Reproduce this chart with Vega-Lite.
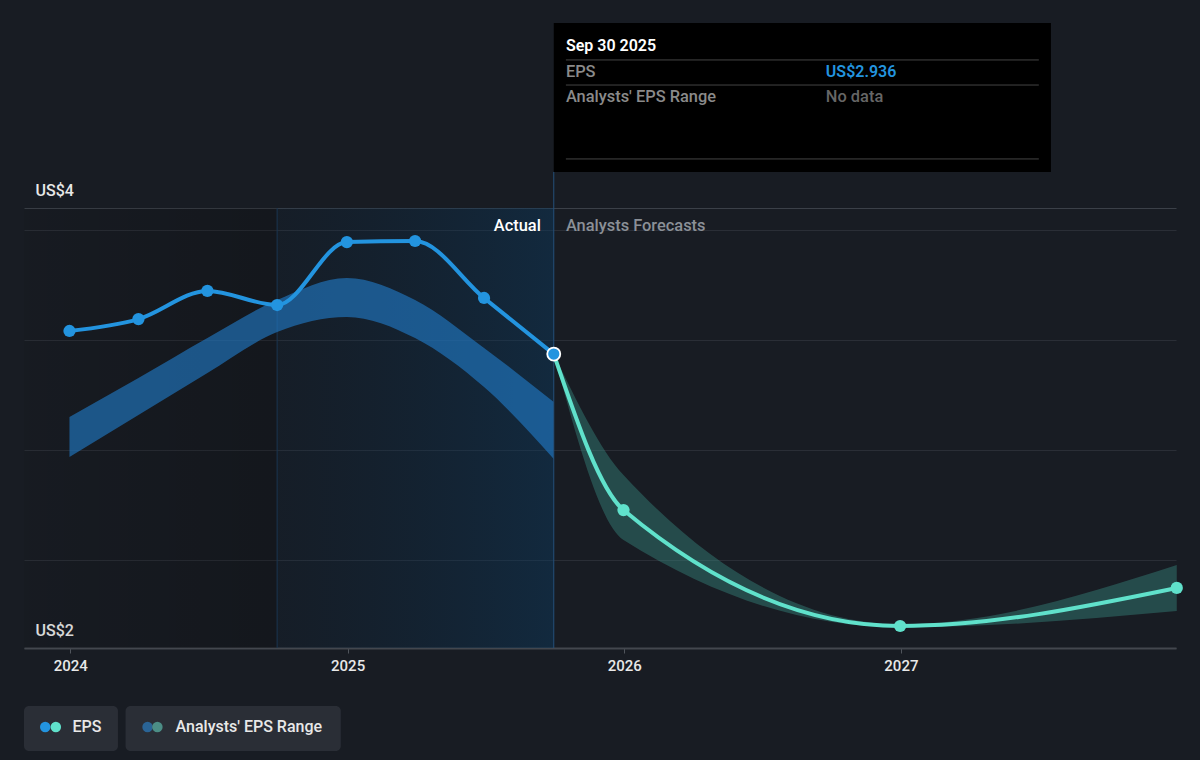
{
  "$schema": "https://vega.github.io/schema/vega-lite/v6.json",
  "width": 1152,
  "height": 440,
  "autosize": {"type": "none"},
  "padding": {"left": 24, "top": 208, "right": 24, "bottom": 112},
  "background": "#181c23",
  "config": {
    "view": {"stroke": null},
    "font": "Roboto",
    "text": {"font": "Roboto", "fontSize": 16.4, "baseline": "middle"}
  },
  "data": {"values": [{}]},
  "datasets": {
    "actual": [
      {"date": "2023-12-31", "eps": 3.041},
      {"date": "2024-03-31", "eps": 3.095},
      {"date": "2024-06-30", "eps": 3.223},
      {"date": "2024-09-30", "eps": 3.159},
      {"date": "2024-12-31", "eps": 3.445},
      {"date": "2025-03-31", "eps": 3.45},
      {"date": "2025-06-30", "eps": 3.191},
      {"date": "2025-09-30", "eps": 2.936}
    ],
    "forecast": [
      {"date": "2025-09-30", "eps": 2.936},
      {"date": "2025-12-31", "eps": 2.227},
      {"date": "2026-12-31", "eps": 1.7},
      {"date": "2027-12-31", "eps": 1.873}
    ],
    "pastRange": [
      {"date": "2023-12-31", "low": 2.468, "high": 2.65},
      {"date": "2024-03-31", "low": 2.659, "high": 2.827},
      {"date": "2024-06-30", "low": 2.85, "high": 3.009},
      {"date": "2024-09-30", "low": 3.036, "high": 3.182},
      {"date": "2024-12-31", "low": 3.105, "high": 3.282},
      {"date": "2025-03-31", "low": 3.009, "high": 3.182},
      {"date": "2025-06-30", "low": 2.786, "high": 2.964},
      {"date": "2025-09-30", "low": 2.459, "high": 2.718}
    ],
    "forecastRange": [
      {"date": "2025-09-30", "low": 2.936, "high": 2.936},
      {"date": "2025-12-31", "low": 2.091, "high": 2.386},
      {"date": "2026-12-31", "low": 1.694, "high": 1.708},
      {"date": "2027-12-31", "low": 1.768, "high": 1.977}
    ]
  },
  "layer": [
    {
      "data": {"name": "pastRange"},
      "mark": {"type": "area", "opacity": 0},
      "encoding": {
        "x": {
          "field": "date",
          "type": "temporal",
          "title": null,
          "scale": {"type": "utc", "domain": [{"year": 2023, "month": 11, "date": 1, "utc": true}, {"year": 2027, "month": 12, "date": 30, "utc": true}]},
          "axis": {
            "values": [
              {"year": 2024, "month": 1, "date": 1, "utc": true},
              {"year": 2025, "month": 1, "date": 1, "utc": true},
              {"year": 2026, "month": 1, "date": 1, "utc": true},
              {"year": 2027, "month": 1, "date": 1, "utc": true}
            ],
            "format": "%Y",
            "formatType": "utc",
            "title": null,
            "grid": false,
            "labelColor": "#e8e8e8",
            "labelFontSize": 15,
            "labelFontWeight": 500,
            "labelPadding": 5,
            "labelFlush": false,
            "tickColor": "#50555c",
            "tickSize": 5,
            "domainColor": "#43474e",
            "domainWidth": 2
          }
        },
        "y": {
          "field": "high",
          "type": "quantitative",
          "title": null,
          "scale": {"domain": [1.6, 3.6], "nice": false, "zero": false},
          "axis": {
            "values": [1.6, 2, 2.5, 3, 3.5, 3.6],
            "labelExpr": "datum.value === 1.6 || datum.value === 3.6 ? 'US$' + format(datum.value, '.0f') : ''",
            "title": null,
            "grid": true,
            "gridColor": {"condition": {"test": "datum.value >= 3.55 || datum.value <= 1.65", "value": "#3b4048"}, "value": "#2a2e36"},
            "domain": false,
            "ticks": false,
            "labelAlign": "left",
            "labelBaseline": "alphabetic",
            "labelPadding": -11,
            "labelOffset": -13,
            "labelColor": "#e8e8e8",
            "labelFontSize": 16,
            "labelFontWeight": 500
          }
        }
      }
    },
    {
      "mark": {"type": "rect", "color": {"gradient": "linear", "x1": 0, "x2": 1, "y1": 0, "y2": 0, "stops": [{"offset": 0, "color": "rgba(0,0,0,0.05)"}, {"offset": 1, "color": "rgba(0,0,0,0.18)"}]}},
      "encoding": {
        "x": {"datum": {"year": 2023, "month": 11, "date": 1, "utc": true}, "type": "temporal", "title": null},
        "x2": {"datum": {"year": 2024, "month": 9, "date": 30, "utc": true}},
        "y": {"datum": 3.6, "type": "quantitative", "title": null},
        "y2": {"datum": 1.6}
      }
    },
    {
      "mark": {"type": "rect", "color": {"gradient": "linear", "x1": 0, "x2": 1, "y1": 0, "y2": 0, "stops": [{"offset": 0, "color": "rgba(5,40,70,0.12)"}, {"offset": 1, "color": "rgba(10,60,100,0.42)"}]}},
      "encoding": {
        "x": {"datum": {"year": 2024, "month": 9, "date": 30, "utc": true}, "type": "temporal", "title": null},
        "x2": {"datum": {"year": 2025, "month": 9, "date": 30, "utc": true}},
        "y": {"datum": 3.6, "type": "quantitative", "title": null},
        "y2": {"datum": 1.6}
      }
    },
    {
      "mark": {"type": "rule", "color": "#1b3650", "strokeWidth": 1},
      "encoding": {
        "x": {"datum": {"year": 2024, "month": 9, "date": 30, "utc": true}, "type": "temporal", "title": null},
        "y": {"datum": 3.6, "type": "quantitative", "title": null},
        "y2": {"datum": 1.6}
      }
    },
    {
      "data": {"name": "pastRange"},
      "mark": {"type": "area", "interpolate": "monotone", "color": "#2179c4", "opacity": 0.64},
      "encoding": {
        "x": {"field": "date", "type": "temporal", "title": null},
        "y": {"field": "high", "type": "quantitative", "title": null},
        "y2": {"field": "low"}
      }
    },
    {
      "data": {"name": "forecastRange"},
      "mark": {"type": "area", "interpolate": "monotone", "color": "#3a8c84", "opacity": 0.42},
      "encoding": {
        "x": {"field": "date", "type": "temporal", "title": null},
        "y": {"field": "high", "type": "quantitative", "title": null},
        "y2": {"field": "low"}
      }
    },
    {
      "mark": {"type": "rule", "color": "#24507a", "strokeWidth": 1},
      "encoding": {
        "x": {"datum": {"year": 2025, "month": 9, "date": 30, "utc": true}, "type": "temporal", "title": null},
        "y": {"datum": 3.764, "type": "quantitative", "title": null},
        "y2": {"datum": 1.6}
      }
    },
    {
      "data": {"name": "forecast"},
      "mark": {"type": "line", "interpolate": "monotone", "color": "#60e1cb", "strokeWidth": 4},
      "encoding": {
        "x": {"field": "date", "type": "temporal", "title": null},
        "y": {"field": "eps", "type": "quantitative", "title": null}
      }
    },
    {
      "data": {"name": "forecast"},
      "transform": [{"filter": {"field": "date", "timeUnit": "yearmonthdate", "gt": {"year": 2025, "month": 9, "date": 30}}}],
      "mark": {"type": "circle", "color": "#60e1cb", "size": 150, "opacity": 1},
      "encoding": {
        "x": {"field": "date", "type": "temporal", "title": null},
        "y": {"field": "eps", "type": "quantitative", "title": null}
      }
    },
    {
      "data": {"name": "actual"},
      "mark": {"type": "line", "interpolate": "monotone", "color": "#2394df", "strokeWidth": 4},
      "encoding": {
        "x": {"field": "date", "type": "temporal", "title": null},
        "y": {"field": "eps", "type": "quantitative", "title": null}
      }
    },
    {
      "data": {"name": "actual"},
      "transform": [{"filter": {"field": "date", "timeUnit": "yearmonthdate", "lt": {"year": 2025, "month": 9, "date": 30}}}],
      "mark": {"type": "circle", "color": "#2394df", "size": 150, "opacity": 1},
      "encoding": {
        "x": {"field": "date", "type": "temporal", "title": null},
        "y": {"field": "eps", "type": "quantitative", "title": null}
      }
    },
    {
      "data": {"name": "actual"},
      "transform": [{"filter": {"field": "date", "timeUnit": "yearmonthdate", "equal": {"year": 2025, "month": 9, "date": 30}}}],
      "mark": {"type": "point", "shape": "circle", "filled": true, "fill": "#2394df", "stroke": "#ffffff", "strokeWidth": 1.8, "size": 170, "opacity": 1},
      "encoding": {
        "x": {"field": "date", "type": "temporal", "title": null},
        "y": {"field": "eps", "type": "quantitative", "title": null}
      }
    },
    {
      "mark": {"type": "text", "text": "Actual", "align": "right", "color": "#ffffff", "fontWeight": 500},
      "encoding": {
        "x": {"datum": {"year": 2025, "month": 9, "date": 13, "utc": true}, "type": "temporal", "title": null},
        "y": {"datum": 3.52, "type": "quantitative", "title": null}
      }
    },
    {
      "mark": {"type": "text", "text": "Analysts Forecasts", "align": "left", "color": "#8b9097", "fontWeight": 500},
      "encoding": {
        "x": {"datum": {"year": 2025, "month": 10, "date": 16, "utc": true}, "type": "temporal", "title": null},
        "y": {"datum": 3.52, "type": "quantitative", "title": null}
      }
    },
    {
      "mark": {"type": "rect", "color": "#000000"},
      "encoding": {
        "x": {"datum": {"year": 2025, "month": 9, "date": 30, "utc": true}, "type": "temporal", "title": null},
        "x2": {"datum": {"year": 2027, "month": 7, "date": 18, "utc": true}},
        "y": {"datum": 4.441, "type": "quantitative", "title": null},
        "y2": {"datum": 3.764}
      }
    },
    {
      "mark": {"type": "text", "text": "Sep 30 2025", "align": "left", "color": "#ffffff", "fontWeight": 600, "fontSize": 16},
      "encoding": {
        "x": {"datum": {"year": 2025, "month": 10, "date": 16, "utc": true}, "type": "temporal", "title": null},
        "y": {"datum": 4.338, "type": "quantitative", "title": null}
      }
    },
    {
      "mark": {"type": "rule", "color": "#444444", "strokeWidth": 1},
      "encoding": {
        "x": {"datum": {"year": 2025, "month": 10, "date": 16, "utc": true}, "type": "temporal", "title": null},
        "x2": {"datum": {"year": 2027, "month": 7, "date": 2, "utc": true}},
        "y": {"datum": 4.273, "type": "quantitative", "title": null}
      }
    },
    {
      "mark": {"type": "text", "text": "EPS", "align": "left", "color": "#8a8a8a", "fontWeight": 500},
      "encoding": {
        "x": {"datum": {"year": 2025, "month": 10, "date": 16, "utc": true}, "type": "temporal", "title": null},
        "y": {"datum": 4.22, "type": "quantitative", "title": null}
      }
    },
    {
      "mark": {"type": "text", "text": "US$2.936", "align": "left", "color": "#2394df", "fontWeight": 600, "fontSize": 16},
      "encoding": {
        "x": {"datum": {"year": 2026, "month": 9, "date": 24, "utc": true}, "type": "temporal", "title": null},
        "y": {"datum": 4.22, "type": "quantitative", "title": null}
      }
    },
    {
      "mark": {"type": "rule", "color": "#444444", "strokeWidth": 1},
      "encoding": {
        "x": {"datum": {"year": 2025, "month": 10, "date": 16, "utc": true}, "type": "temporal", "title": null},
        "x2": {"datum": {"year": 2027, "month": 7, "date": 2, "utc": true}},
        "y": {"datum": 4.159, "type": "quantitative", "title": null}
      }
    },
    {
      "mark": {"type": "text", "text": "Analysts' EPS Range", "align": "left", "color": "#8a8a8a", "fontWeight": 500},
      "encoding": {
        "x": {"datum": {"year": 2025, "month": 10, "date": 16, "utc": true}, "type": "temporal", "title": null},
        "y": {"datum": 4.106, "type": "quantitative", "title": null}
      }
    },
    {
      "mark": {"type": "text", "text": "No data", "align": "left", "color": "#666666", "fontWeight": 500},
      "encoding": {
        "x": {"datum": {"year": 2026, "month": 9, "date": 24, "utc": true}, "type": "temporal", "title": null},
        "y": {"datum": 4.106, "type": "quantitative", "title": null}
      }
    },
    {
      "mark": {"type": "rule", "color": "#444444", "strokeWidth": 1},
      "encoding": {
        "x": {"datum": {"year": 2025, "month": 10, "date": 16, "utc": true}, "type": "temporal", "title": null},
        "x2": {"datum": {"year": 2027, "month": 7, "date": 2, "utc": true}},
        "y": {"datum": 3.823, "type": "quantitative", "title": null}
      }
    },
    {
      "mark": {"type": "rect", "color": "#2a2e36", "cornerRadius": 5},
      "encoding": {
        "x": {"datum": {"year": 2023, "month": 11, "date": 1, "utc": true}, "type": "temporal", "title": null},
        "x2": {"datum": {"year": 2024, "month": 3, "date": 4, "utc": true}},
        "y": {"datum": 1.336, "type": "quantitative", "title": null},
        "y2": {"datum": 1.132}
      }
    },
    {
      "mark": {"type": "rect", "color": "#2a2e36", "cornerRadius": 5},
      "encoding": {
        "x": {"datum": {"year": 2024, "month": 3, "date": 14, "utc": true}, "type": "temporal", "title": null},
        "x2": {"datum": {"year": 2024, "month": 12, "date": 23, "utc": true}},
        "y": {"datum": 1.336, "type": "quantitative", "title": null},
        "y2": {"datum": 1.132}
      }
    },
    {
      "mark": {"type": "circle", "color": "#2394df", "size": 110, "opacity": 1},
      "encoding": {
        "x": {"datum": {"year": 2023, "month": 11, "date": 29, "utc": true}, "type": "temporal", "title": null},
        "y": {"datum": 1.241, "type": "quantitative", "title": null}
      }
    },
    {
      "mark": {"type": "circle", "color": "#60e1cb", "size": 110, "opacity": 1},
      "encoding": {
        "x": {"datum": {"year": 2023, "month": 12, "date": 13, "utc": true}, "type": "temporal", "title": null},
        "y": {"datum": 1.241, "type": "quantitative", "title": null}
      }
    },
    {
      "mark": {"type": "text", "text": "EPS", "align": "left", "color": "#e8e8e8", "fontWeight": 500, "fontSize": 16},
      "encoding": {
        "x": {"datum": {"year": 2024, "month": 1, "date": 4, "utc": true}, "type": "temporal", "title": null},
        "y": {"datum": 1.241, "type": "quantitative", "title": null}
      }
    },
    {
      "mark": {"type": "circle", "color": "#2a6496", "size": 110, "opacity": 1},
      "encoding": {
        "x": {"datum": {"year": 2024, "month": 4, "date": 12, "utc": true}, "type": "temporal", "title": null},
        "y": {"datum": 1.241, "type": "quantitative", "title": null}
      }
    },
    {
      "mark": {"type": "circle", "color": "#4c8e86", "size": 110, "opacity": 1},
      "encoding": {
        "x": {"datum": {"year": 2024, "month": 4, "date": 25, "utc": true}, "type": "temporal", "title": null},
        "y": {"datum": 1.241, "type": "quantitative", "title": null}
      }
    },
    {
      "mark": {"type": "text", "text": "Analysts' EPS Range", "align": "left", "color": "#e8e8e8", "fontWeight": 500, "fontSize": 16},
      "encoding": {
        "x": {"datum": {"year": 2024, "month": 5, "date": 19, "utc": true}, "type": "temporal", "title": null},
        "y": {"datum": 1.241, "type": "quantitative", "title": null}
      }
    }
  ]
}
